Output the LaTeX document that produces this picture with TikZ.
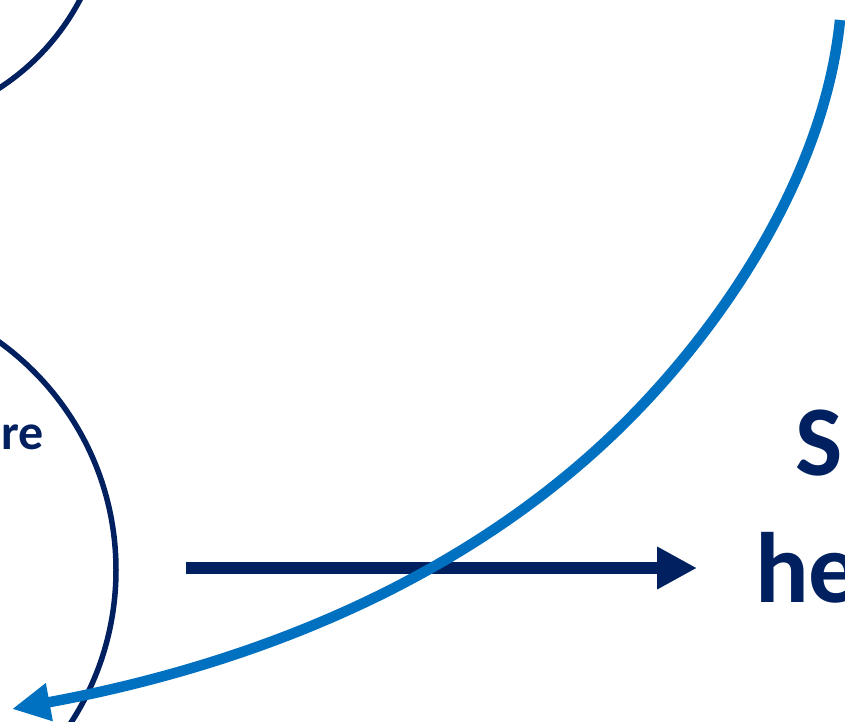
\documentclass[tikz,border=0pt]{standalone}
\usepackage{fontspec}
\setmainfont{Carlito}
\usetikzlibrary{arrows.meta}
\definecolor{navy}{HTML}{002060}
\definecolor{ablue}{HTML}{0070C0}
\begin{document}
\begin{tikzpicture}[x=1pt,y=-1pt,
  ring/.style={draw=navy,line width=5.5pt},
  lbl/.style={text=navy,inner sep=0pt},
  bigfont/.style={font=\fontsize{100}{120}\selectfont\bfseries},
  smallfont/.style={font=\fontsize{50}{60}\selectfont\bfseries},
  navyarrow/.style={draw=navy,line width=12pt,-{Triangle[length=40pt,width=40pt]}},
  bluearrow/.style={draw=ablue,line width=10.5pt,-{Triangle[length=38pt,width=36pt]}}]
\clip (0,0) rectangle (845,721);
\draw[ring] (-129,-110) circle[radius=236pt];
\draw[ring] (-165,570) circle[radius=281pt];
\node[lbl,smallfont,anchor=base east] (re) at (44,449) {re};
\node[lbl,bigfont,anchor=base west] (S) at (795,475) {S};
\node[lbl,bigfont,anchor=base west] (he) at (755,602) {he};
\coordinate (hstart) at (186,568);
\coordinate (hend) at (697,568);
\draw[navyarrow] (hstart) -- (hend);
\coordinate (bstart) at (840,20);
\coordinate (bmid) at (647,400);
\coordinate (bend) at (12,709);
\draw[bluearrow] (bstart) .. controls (826,160) and (742,298) .. (bmid)
  .. controls (484,575) and (257,664) .. (bend);
\end{tikzpicture}
\end{document}
